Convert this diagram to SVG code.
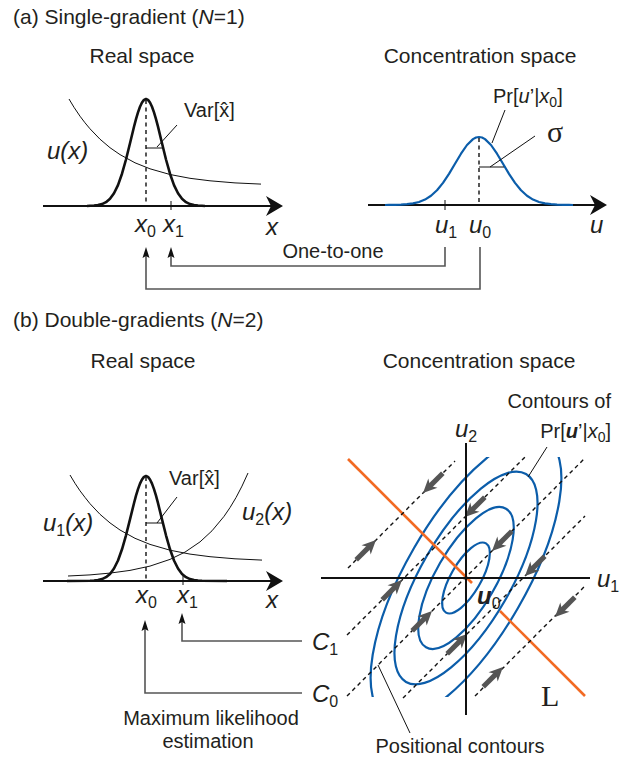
<svg xmlns="http://www.w3.org/2000/svg" width="632" height="760" viewBox="0 0 632 760">
<defs>
<style>
text{font-family:"Liberation Sans",Arial,sans-serif;fill:#231f20}
.t{font-size:20px}
.h{font-size:21px}
.mid{text-anchor:middle}
.end{text-anchor:end}
.m{font-size:24px;font-style:italic}
.s{font-size:16px;font-style:normal;font-weight:normal}
.i{font-style:italic}
.bi{font-style:italic;font-weight:bold}
.serif{font-family:"Liberation Serif","Times New Roman",serif;font-size:30px}
.ax{stroke:#111;stroke-width:2;fill:none}
.g{stroke:#111;stroke-width:2.6;fill:none;stroke-linejoin:round}
.b{stroke:#0b5daa;stroke-width:2.2;fill:none;stroke-linejoin:round}
.thin{stroke:#111;stroke-width:1;fill:none}
.dash{stroke:#111;stroke-width:1.4;stroke-dasharray:4 3.5;fill:none}
.conn{stroke:#555;stroke-width:1.6;fill:none}
.or{stroke:#f26a23;stroke-width:2.6;fill:none}
.head{fill:#111}
.gr{fill:#555}
</style>
<path id="axhead" class="head" d="M0,0 L-17,-10 L-12,0 L-17,10 Z"/>
<path id="sah" class="head" d="M0,0 L-3.5,11 L0,9 L3.5,11 Z"/>
<g id="ga">
<line x1="-28" y1="0" x2="-9" y2="0" stroke="#555" stroke-width="5"/>
<path class="gr" d="M0,0 L-14,-6.5 L-10,0 L-14,6.5 Z"/>
</g>
<clipPath id="clipE"><rect x="300" y="457" width="320" height="240"/></clipPath>
</defs>
<rect width="632" height="760" fill="#fff"/>

<!-- (a) -->
<g id="a-title"><text class="h" x="13" y="24">(a) Single-gradient (<tspan class="i">N</tspan>=1)</text></g>

<g id="a-real">
<text class="h mid" x="142" y="63">Real space</text>
<line class="ax" x1="43" y1="206" x2="272" y2="206"/>
<use href="#axhead" x="283" y="206"/>
<polyline class="thin" points="69,99 74,107.3 80,116.2 85,122.8 90,128.8 100,139.2 110,147.7 120,154.6 135,162.8 150,168.8 170,174.5 190,178.3 210,180.8 235,182.9 261,184.1"/>
<polyline class="g" points="87,206 90,205.8 94,205.6 98,205.1 102,204.1 106,202.2 110,198.8 114,193.3 118,185.1 122,173.7 126,159.5 130,143.2 134,126.7 136,119.1 138,112.4 140,106.7 142,102.5 144,99.9 146,99 148,99.9 150,102.5 152,106.7 154,112.4 156,119.1 158,126.7 162,143.2 166,159.5 170,173.7 174,185.1 178,193.3 182,198.8 186,202.2 190,204.1 194,205.1 198,205.6 202,205.8 205,206"/>
<line class="dash" x1="146" y1="100" x2="146" y2="206"/>
<line class="thin" x1="146" y1="148" x2="162" y2="148"/>
<line class="thin" x1="157" y1="147" x2="177" y2="125"/>
<line class="thin" x1="171" y1="201" x2="171" y2="210"/>
<text class="t" x="184" y="117">Var[x̂]</text>
<text class="m" x="47" y="159">u(x)</text>
<text class="m" x="135" y="232">x<tspan class="s" dy="5">0</tspan></text>
<text class="m" x="163" y="232">x<tspan class="s" dy="5">1</tspan></text>
<text class="m" x="266" y="235">x</text>
</g>

<g id="a-conc">
<text class="h mid" x="480" y="63">Concentration space</text>
<line class="ax" x1="368" y1="205" x2="596" y2="205"/>
<use href="#axhead" x="607" y="205"/>
<polyline class="b" points="385,205 389,204.94 395,204.85 401,204.7 407,204.2 413,203.4 419,202 425,199.6 431,195.8 437,190.3 443,182.9 449,173.9 455,163.8 461,153.7 467,145 473,139.1 476,137.5 479,137 482,137.5 485,139.1 491,145 497,153.7 503,163.8 509,173.9 515,182.9 521,190.3 527,195.8 533,199.6 539,202 545,203.4 551,204.2 557,204.7 563,204.85 569,204.94 573,205"/>
<line class="dash" x1="479" y1="138" x2="479" y2="205"/>
<line class="thin" x1="479" y1="167" x2="504" y2="167"/>
<line class="thin" x1="490" y1="167" x2="535" y2="136"/>
<line class="thin" x1="492" y1="143" x2="505" y2="110"/>
<line class="thin" x1="445" y1="200" x2="445" y2="210"/>
<text class="t" x="493" y="103">Pr[<tspan class="i">u</tspan>’|<tspan class="i">x</tspan><tspan font-size="14" dy="4">0</tspan><tspan dy="-4">]</tspan></text>
<text class="serif" x="547" y="142">σ</text>
<text class="m" x="435" y="233">u<tspan class="s" dy="5">1</tspan></text>
<text class="m" x="469" y="233">u<tspan class="s" dy="5">0</tspan></text>
<text class="m" x="590" y="233">u</text>
</g>

<g id="a-connectors">
<path class="conn" d="M480,247 V289 H146 V252"/>
<path class="conn" d="M445,247 V266 H171 V252"/>
<use href="#sah" x="146" y="247"/>
<use href="#sah" x="171" y="247"/>
<text class="t mid" x="333" y="258">One-to-one</text>
</g>

<!-- (b) -->
<g id="b-title"><text class="h" x="13" y="327">(b) Double-gradients (<tspan class="i">N</tspan>=2)</text></g>

<g id="b-real">
<text class="h mid" x="143" y="368">Real space</text>
<line class="ax" x1="43" y1="581" x2="272" y2="581"/>
<use href="#axhead" x="283" y="581"/>
<polyline class="thin" points="70,475 75,483.3 80,490.8 85,497.4 90,503.7 100,514.3 110,522.9 120,530 135,538.3 150,544.4 170,550.2 190,554.1 210,556.7 235,558.8 262,560.1"/>
<polyline class="thin" points="68,576 90,574.9 110,573.1 130,570.4 150,566.1 170,559.4 185,552.1 200,541.9 212,530.8 224,516.4 230,507.6 236,497.6 242,486.1 248,473"/>
<polyline class="g" points="67,581 90,580.8 94,580.6 98,580.1 102,579.1 106,577.2 110,573.9 114,568.5 118,560.5 122,549.3 126,535.3 130,519.4 134,503.2 136,495.7 138,489.1 140,483.6 142,479.5 144,476.9 146,476 148,476.9 150,479.5 152,483.6 154,489.1 156,495.7 158,503.2 162,519.4 166,535.3 170,549.3 174,560.5 178,568.5 182,573.9 186,577.2 190,579.1 194,580.1 198,580.6 202,580.8 227,581"/>
<line class="dash" x1="146" y1="477" x2="146" y2="581"/>
<line class="thin" x1="146" y1="523" x2="164" y2="523"/>
<line class="thin" x1="157" y1="523" x2="177" y2="497"/>
<line class="thin" x1="183" y1="576" x2="183" y2="585"/>
<text class="t" x="169" y="485">Var[x̂]</text>
<text class="m" x="43" y="531">u<tspan class="s" dy="5">1</tspan><tspan dy="-5">(x)</tspan></text>
<text class="m" x="242" y="520">u<tspan class="s" dy="5">2</tspan><tspan dy="-5">(x)</tspan></text>
<text class="m" x="136" y="603">x<tspan class="s" dy="5">0</tspan></text>
<text class="m" x="177" y="603">x<tspan class="s" dy="5">1</tspan></text>
<text class="m" x="266" y="608">x</text>
</g>

<g id="b-conc">
<text class="h mid" x="479" y="368">Concentration space</text>
<g clip-path="url(#clipE)">
<ellipse class="b" cx="466" cy="578" rx="40" ry="15" transform="rotate(-60 466 578)"/>
<ellipse class="b" cx="466" cy="578" rx="80" ry="30" transform="rotate(-60 466 578)"/>
<ellipse class="b" cx="466" cy="578" rx="120" ry="45" transform="rotate(-60 466 578)"/>
<ellipse class="b" cx="466" cy="578" rx="160" ry="60" transform="rotate(-60 466 578)"/>
</g>
<line class="or" x1="348" y1="459" x2="472" y2="583"/>
<line class="or" x1="500" y1="611" x2="585" y2="696"/>
<line class="dash" x1="348" y1="568" x2="455" y2="461"/>
<line class="dash" x1="347" y1="635" x2="525" y2="457"/>
<line class="dash" x1="347" y1="696" x2="584" y2="459"/>
<line class="dash" x1="403" y1="698" x2="585" y2="516"/>
<line class="dash" x1="475" y1="696" x2="584" y2="587"/>
<use href="#ga" transform="translate(423 493) rotate(135)"/>
<use href="#ga" transform="translate(376 540) rotate(-45)"/>
<use href="#ga" transform="translate(465 517) rotate(135)"/>
<use href="#ga" transform="translate(402 580) rotate(-45)"/>
<use href="#ga" transform="translate(492 551) rotate(135)"/>
<use href="#ga" transform="translate(432 611) rotate(-45)"/>
<use href="#ga" transform="translate(525 576) rotate(135)"/>
<use href="#ga" transform="translate(467 634) rotate(-45)"/>
<use href="#ga" transform="translate(555 617) rotate(135)"/>
<use href="#ga" transform="translate(503 667) rotate(-45)"/>
<line class="ax" x1="321" y1="578" x2="590" y2="578"/>
<line class="ax" x1="466" y1="443" x2="466" y2="715"/>
<line class="thin" x1="547" y1="447" x2="528" y2="477"/>
<line class="thin" x1="378" y1="665" x2="410" y2="733"/>
<text class="t end" x="611" y="408">Contours of</text>
<text class="t end" x="611" y="438">Pr[<tspan class="bi">u</tspan>’|<tspan class="i">x</tspan><tspan font-size="14" dy="4">0</tspan><tspan dy="-4">]</tspan></text>
<text class="m" x="455" y="437">u<tspan class="s" dy="5">2</tspan></text>
<text class="m" x="597" y="587">u<tspan class="s" dy="5">1</tspan></text>
<text class="m bi" x="477" y="604" font-size="26">u<tspan class="s" font-size="18" dy="5">0</tspan></text>
<text class="serif" x="541" y="706">L</text>
<text class="t mid" x="460" y="753">Positional contours</text>
</g>

<g id="b-connectors">
<path class="conn" d="M302,641 H182 V618"/>
<path class="conn" d="M302,693 H145 V625"/>
<use href="#sah" x="182" y="613"/>
<use href="#sah" x="145" y="620"/>
<text class="m" x="312" y="650">C<tspan class="s" dy="5">1</tspan></text>
<text class="m" x="312" y="702">C<tspan class="s" dy="5">0</tspan></text>
<text class="t mid" x="211" y="725">Maximum likelihood</text>
<text class="t mid" x="208" y="748">estimation</text>
</g>
</svg>
